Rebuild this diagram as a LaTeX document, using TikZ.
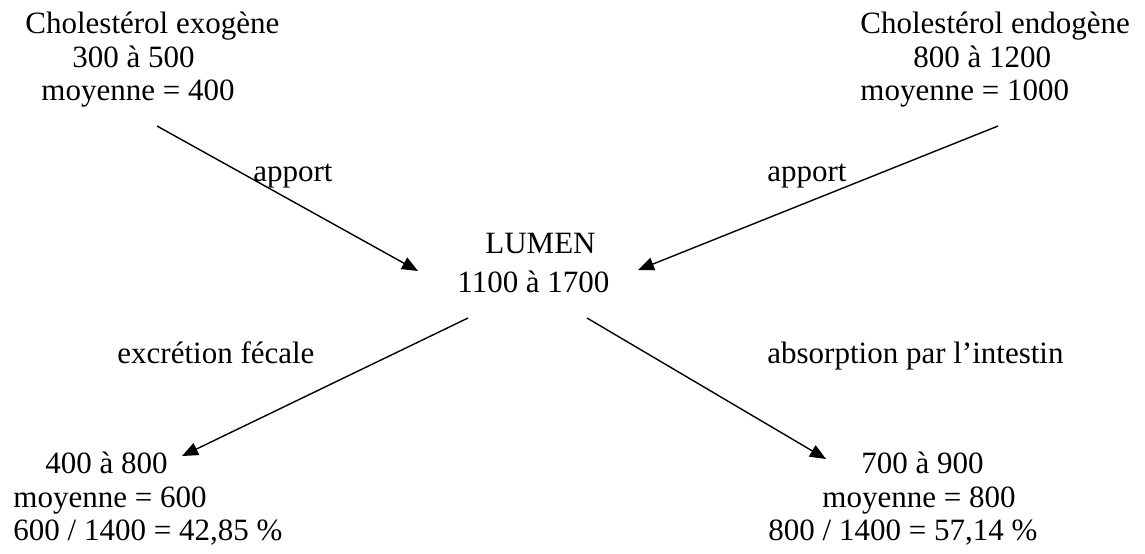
\documentclass[tikz,border=0pt]{standalone}
\usepackage{fontspec}
\setmainfont{Liberation Serif}
\usetikzlibrary{arrows.meta}

\begin{document}
\begin{tikzpicture}[x=0.5pt, y=-0.5pt,
    every node/.style={inner sep=0pt, anchor=base west,
        font=\fontsize{15.5}{17}\selectfont},
    flow/.style={-{Triangle[length=8pt,width=6.5pt]}, line width=0.7pt},
]
\useasboundingbox (0,0) rectangle (1145,553);
\path
node (exo1) at (25,33) {Cholestérol exogène}
node (exo2) at (72,67) {300 à 500}
node (exo3) at (41,100) {moyenne = 400}
node (endo1) at (860,33) {Cholestérol endogène}
node (endo2) at (913,67) {800 à 1200}
node (endo3) at (860,100) {moyenne = 1000}
node (lumen) at (485,253) {LUMEN}
node (lumen2) at (457,292) {1100 à 1700}
node (fec1) at (45,473) {400 à 800}
node (fec2) at (13,507) {moyenne = 600}
node (fec3) at (13,540) {600 / 1400 = 42,85 \%}
node (abs1) at (861,473) {700 à 900}
node (abs2) at (822,507) {moyenne = 800}
node (abs3) at (768,540) {800 / 1400 = 57,14 \%}
% labels of the flows
node (apport1) at (253,181) {apport}
node (apport2) at (767,181) {apport}
node (excr) at (117,363) {excrétion fécale}
node (absorb) at (767,363) {absorption par l’intestin}
% arrow ends
coordinate (exoout) at (157,126)
coordinate (exoin) at (418,271)
coordinate (endoout) at (998,126)
coordinate (endoin) at (638,270)
coordinate (fecout) at (468,318)
coordinate (fecin) at (182,456)
coordinate (absout) at (587,318)
coordinate (absin) at (826,459)
;
\path
(exoout) edge[flow] (exoin)
(endoout) edge[flow] (endoin)
(fecout) edge[flow] (fecin)
(absout) edge[flow] (absin)
;
\end{tikzpicture}
\end{document}
